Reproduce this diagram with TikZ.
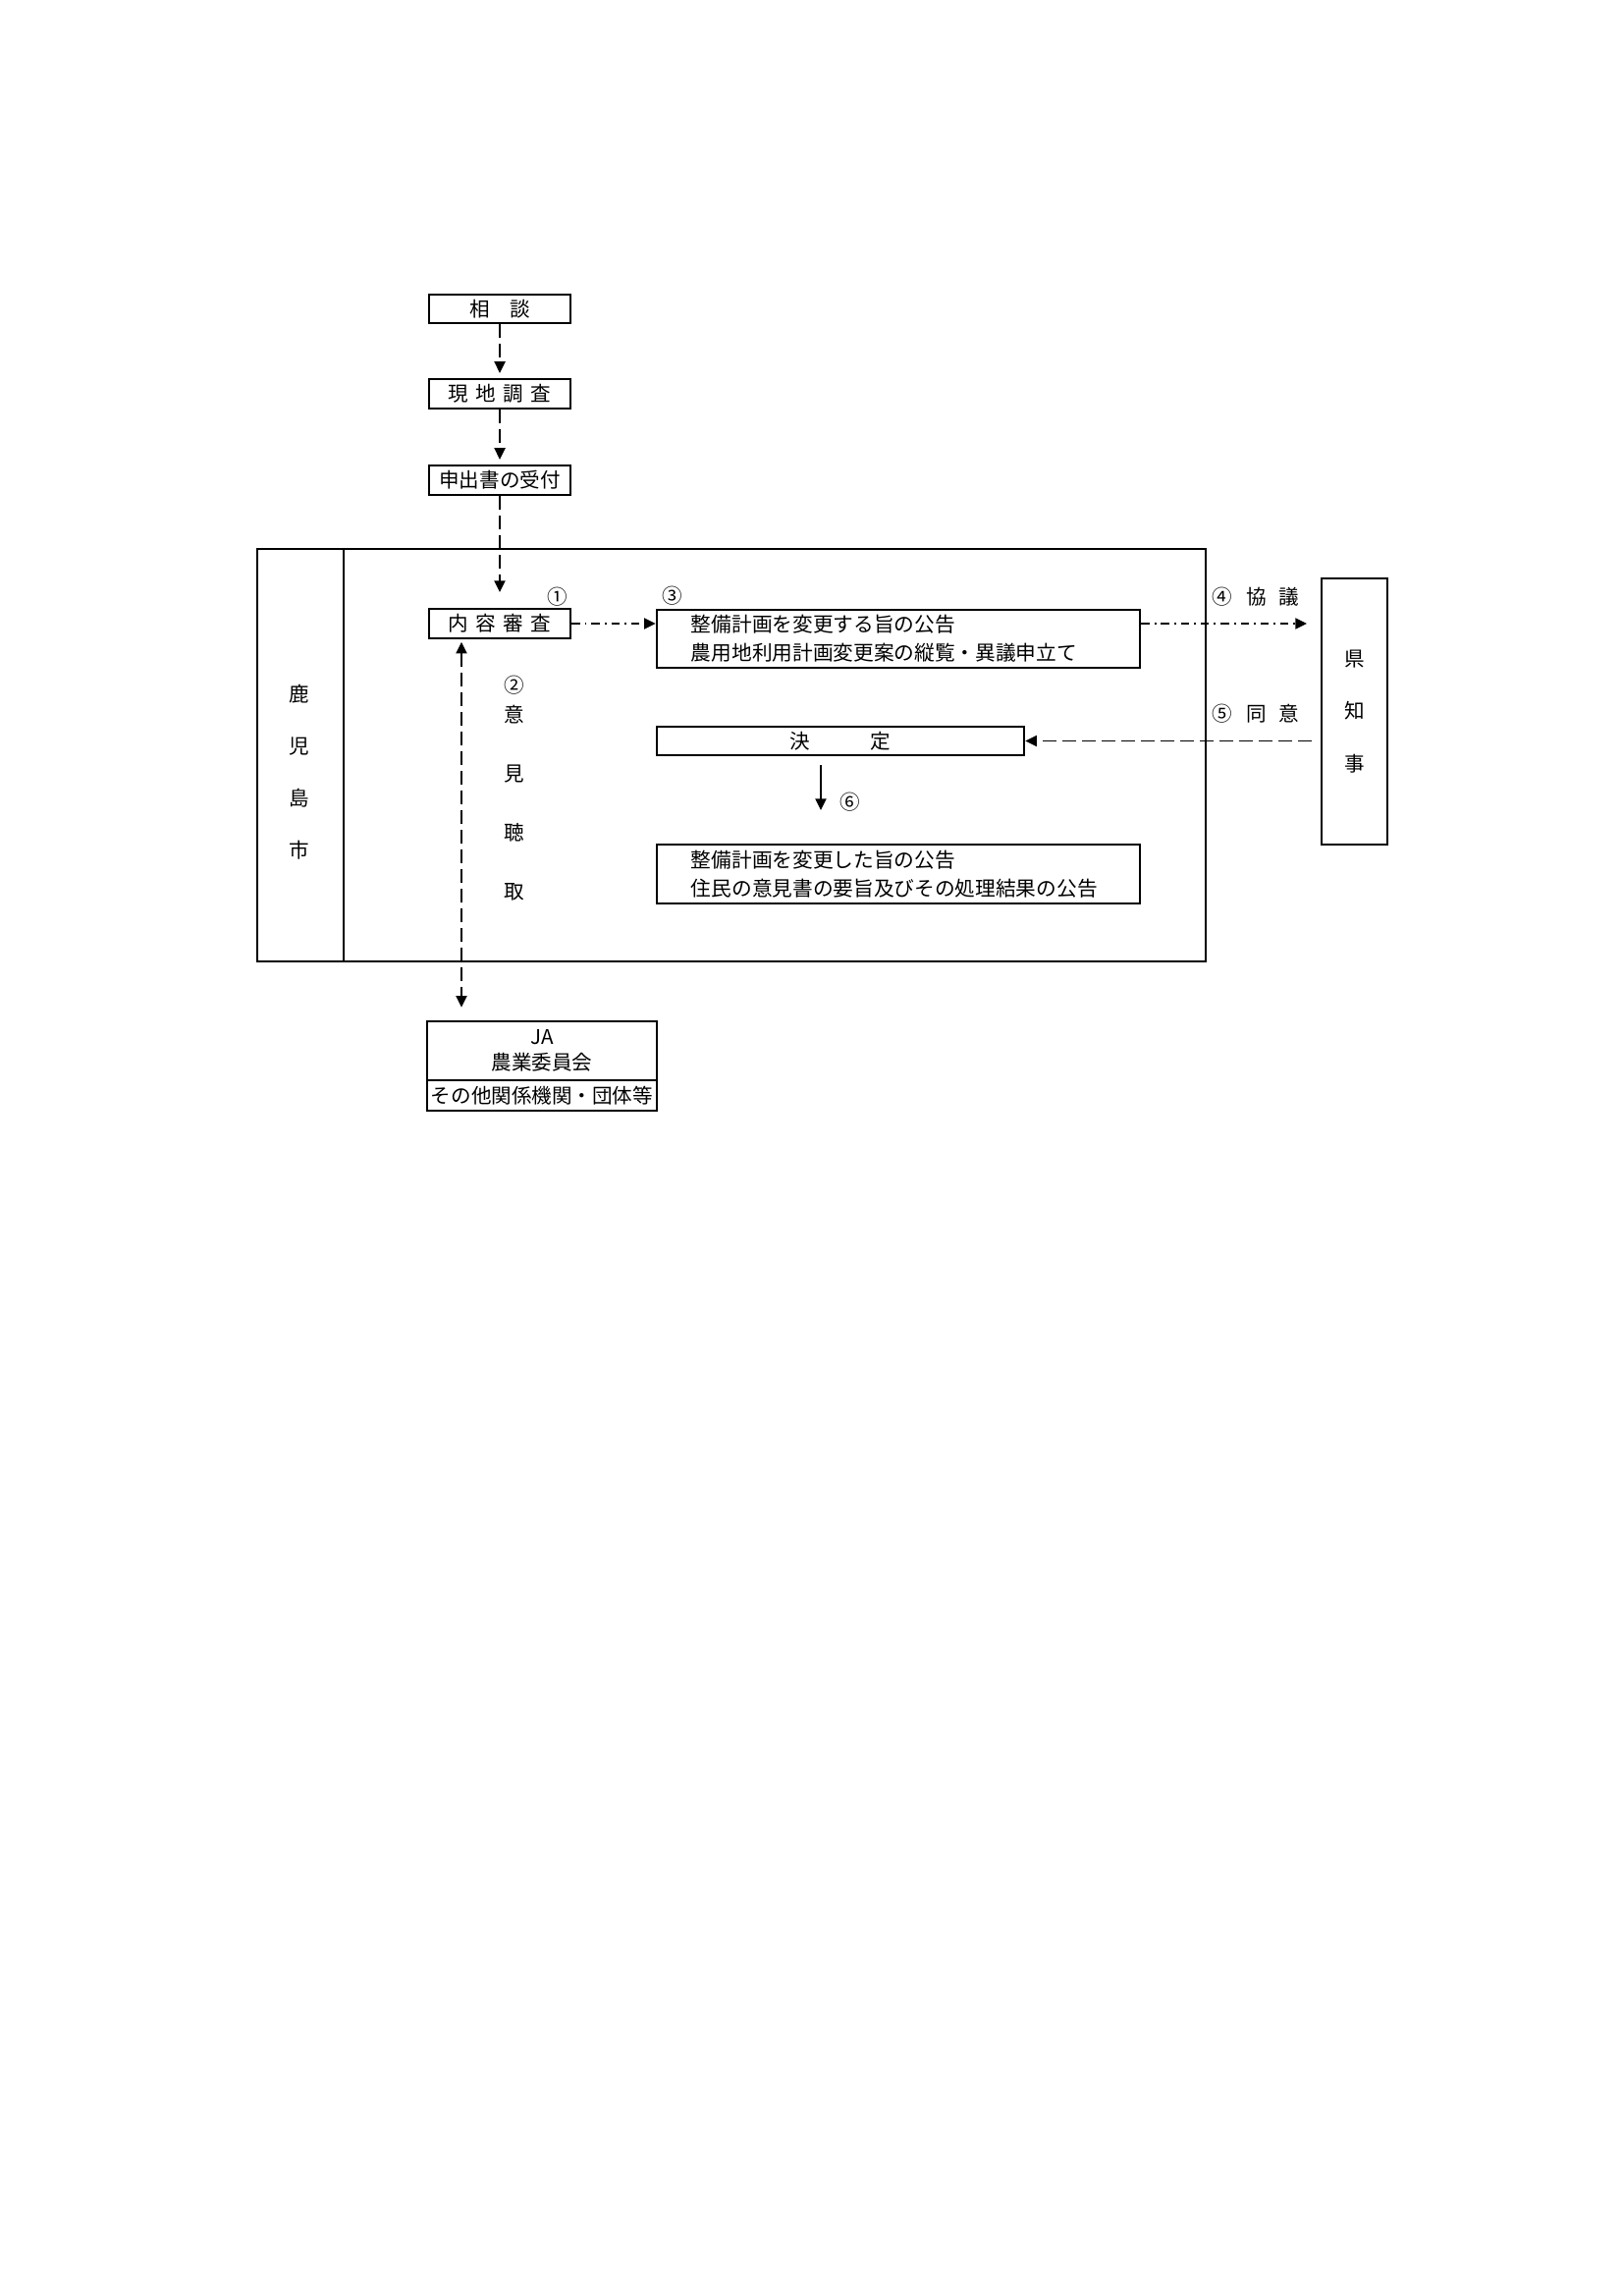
\documentclass[tikz,border=0pt]{standalone}
\usepackage{fontspec}
\setmainfont{Noto Sans CJK JP}
\usetikzlibrary{arrows.meta}
\newcommand\jpsize{\fontsize{7.4pt}{8.8pt}\selectfont}
\newcommand\kg{\hspace{2.7pt}}
\begin{document}
\begin{tikzpicture}[x=0.3601pt,y=-0.3601pt,
  every node/.style={font=\jpsize, inner sep=0pt},
  box/.style={draw, line width=0.85pt, minimum width=51.85pt, minimum height=10.6pt},
  conn/.style={line width=0.6pt},
  tip/.style={-{Triangle[length=4.2pt,width=4pt]}},
  bitip/.style={{Triangle[length=4.2pt,width=4pt]}-{Triangle[length=4.2pt,width=4pt]}},
  dsh/.style={dash pattern=on 5pt off 2.2pt},
  dshdot/.style={dash pattern=on 3pt off 1.8pt on 0.7pt off 1.8pt},
  notice/.style={box, minimum width=177.2pt, text width=152pt, inner xsep=12.6pt, align=left, font=\fontsize{7.45pt}{10.44pt}\selectfont}
]
\useasboundingbox (0,0) rectangle (1653,2338);

% top flow
\node[box] (sodan) at (509,314.5) {相　談};
\node[box, minimum height=10.8pt] (genchi) at (509,401) {現\kg 地\kg 調\kg 査};
\node[box, minimum height=10.8pt] (moushide) at (509,489) {申出書の受付};

% city frame
\node[draw, line width=0.85pt, minimum width=347.9pt, minimum height=151.2pt] (city) at (745,769) {};
\coordinate (dv) at (350,0);
\draw[line width=0.85pt] (city.north -| dv) -- (city.south -| dv);
\node[align=center, font=\fontsize{7.4pt}{19.1pt}\selectfont] (cityname) at (305,786) {鹿\\児\\島\\市};

\node[box] (naiyo) at (509,635) {内\kg 容\kg 審\kg 査};
\node (n1) at (568,608) {①};
\node (n3) at (685,607) {③};
\node[notice, minimum height=21.25pt] (kokoku1) at (915,650.5) {整備計画を変更する旨の公告\\農用地利用計画変更案の縦覧・異議申立て};
\node[box, minimum width=134.7pt] (kettei) at (856,754.5) {決　　　定};
\node[notice, minimum height=21.6pt] (kokoku2) at (915,890) {整備計画を変更した旨の公告\\住民の意見書の要旨及びその処理結果の公告};

\node (n2) at (524,698) {②};
\node[align=center, font=\fontsize{7.4pt}{21.6pt}\selectfont] (iken) at (524,817.5) {意\\見\\聴\\取};
\node (n6) at (866,817) {⑥};

% governor
\node[box, minimum width=24.1pt, minimum height=97.6pt, align=center, font=\fontsize{7.4pt}{19.3pt}\selectfont] (chiji) at (1379.5,724.5) {県\\知\\事};
\node (n4) at (1245,608) {④};
\node (kyogi) at (1296.5,608) {協\hspace{4.5pt}議};
\node (n5) at (1245,727) {⑤};
\node (doi) at (1296.5,727) {同\hspace{4.5pt}意};

% JA
\node[box, minimum width=84.3pt, minimum height=21.6pt, align=center, font=\fontsize{7.4pt}{9.4pt}\selectfont] (ja) at (552,1070) {JA\\農業委員会};
\node[box, minimum width=84.3pt, minimum height=11.2pt] (other) at (552,1115.5) {その他関係機関・団体等};

% connectors
\draw[conn, dsh, tip, shorten >=1.8pt] (sodan) -- (genchi);
\draw[conn, dsh, tip, shorten >=1.8pt] (genchi) -- (moushide);
\draw[conn, dsh, tip, shorten >=5.8pt] (moushide) -- (naiyo);
\draw[conn, dshdot, tip] (naiyo.east) -- (naiyo.east -| kokoku1.west);
\draw[conn, dshdot, tip, shorten >=5pt] (naiyo.east -| kokoku1.east) -- (naiyo.east -| chiji.west);
\draw[conn, dsh, tip, shorten <=3.2pt] (kettei.east -| chiji.west) -- (kettei.east);
\coordinate (c6) at (836,0);
\draw[conn, tip, shorten <=3.1pt, shorten >=12.2pt] (kettei.south -| c6) -- (kokoku2.north -| c6);
\coordinate (c2) at (470,0);
\draw[conn, dsh, bitip, shorten <=1pt, shorten >=4.7pt] (naiyo.south -| c2) -- (ja.north -| c2);
\end{tikzpicture}
\end{document}
